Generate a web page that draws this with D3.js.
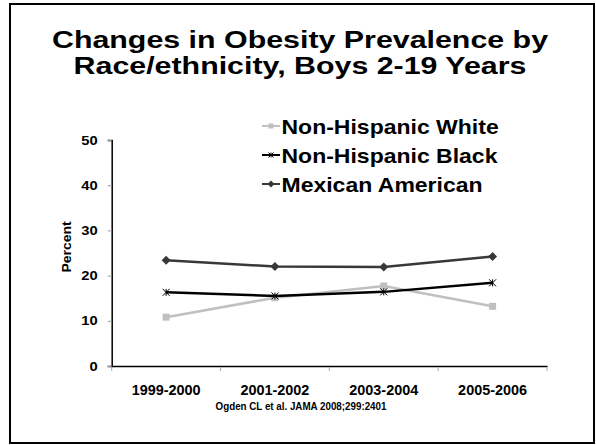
<!DOCTYPE html>
<html><head><meta charset="utf-8">
<script src="https://cdn.jsdelivr.net/npm/d3@7"></script>
<style>body{margin:0;background:#fff}svg{display:block;font-family:"Liberation Sans",Arial,sans-serif}</style>
</head><body><svg id="c" width="596" height="445"></svg>
<script>
const categories = ["1999-2000","2001-2002","2003-2004","2005-2006"];
const seriesNames = ["Non-Hispanic White","Non-Hispanic Black","Mexican American"];
const white = [10.8, 15.1, 17.7, 13.2];
const black = [16.3, 15.5, 16.4, 18.4];
const mexican = [23.4, 22.0, 21.9, 24.2];
const yTicks = [0,10,20,30,40,50];
const titleLines = ["Changes in Obesity Prevalence by","Race/ethnicity, Boys 2-19 Years"];
const source = "Ogden CL et al. JAMA 2008;299:2401";

const svg = d3.select("#c");
svg.append("rect").attr("x",10).attr("y",4).attr("width",584).attr("height",439)
  .attr("fill","none").attr("stroke","#000").attr("stroke-width",2);

// text with horizontal stretch around its anchor point
function addText(parent, str, px, py, size, sx, anchor){
  return parent.append("text").attr("transform",`translate(${px},${py}) scale(${sx},1)`)
    .attr("text-anchor",anchor||"start").attr("font-size",size).attr("font-weight","bold").text(str);
}

titleLines.forEach((t,i)=>addText(svg, t, 300, 48+i*26, 24.5, 1.24, "middle"));

const pLeft=111.7, pRight=547, pTop=140, pBottom=366;
const x = d3.scaleBand().domain(categories).range([pLeft,pRight]);
const y = d3.scaleLinear().domain([0,50]).range([pBottom,pTop]);

// y axis
const ya = svg.append("g").attr("transform",`translate(${pLeft},0)`)
  .call(d3.axisLeft(y).tickValues(yTicks).tickSize(4).tickPadding(10));
ya.select(".domain").attr("stroke","#000").attr("stroke-width",1.5);
ya.selectAll(".tick line").attr("stroke","#999");
ya.selectAll(".tick text").attr("font-size",12.5).attr("font-weight","bold").attr("fill","#000")
  .attr("font-family","Liberation Sans, Arial, sans-serif")
  .attr("x",-14/1.18).attr("transform","scale(1.18,1)");

// x axis
const xa = svg.append("g").attr("transform",`translate(0,${pBottom})`)
  .call(d3.axisBottom(x).tickSize(0).tickPadding(19));
xa.select(".domain").attr("stroke","#000").attr("stroke-width",1.5);
xa.selectAll(".tick text").attr("font-size",14).attr("font-weight","bold").attr("fill","#000")
  .attr("font-family","Liberation Sans, Arial, sans-serif").attr("transform","scale(1.03,1)");
// category boundary ticks
const bounds = categories.map(c=>x(c)).concat([x.range()[1]]);
xa.append("g").selectAll("line").data(bounds).join("line")
  .attr("x1",d=>d).attr("x2",d=>d)
  .attr("y1",1).attr("y2",5).attr("stroke","#aaa").attr("stroke-width",1);

svg.append("text").attr("transform",`translate(70.5,247) rotate(-90) scale(1.16,1)`)
  .attr("text-anchor","middle").attr("font-size",12).attr("font-weight","bold").text("Percent");

addText(svg, source, 301, 410, 10, 0.98, "middle");

const series = [
  {name:seriesNames[0], values:white, color:"#c0c0c0", marker:"square"},
  {name:seriesNames[1], values:black, color:"#000000", marker:"star"},
  {name:seriesNames[2], values:mexican, color:"#383838", marker:"diamond"}
];
const cx = d => x(d)+x.bandwidth()/2;
const line = d3.line().x(d=>cx(d.c)).y(d=>y(d.v));

function marker(g, type, color, px, py, s){
  if(type==="square"){
    g.append("rect").attr("x",px-s).attr("y",py-s).attr("width",2*s).attr("height",2*s).attr("fill",color);
  } else if(type==="diamond"){
    g.append("path").attr("d",`M${px},${py-s-1}L${px+s+1},${py}L${px},${py+s+1}L${px-s-1},${py}Z`).attr("fill",color);
  } else {
    const p = `M${px-s},${py-s}L${px+s},${py+s}M${px-s},${py+s}L${px+s},${py-s}M${px},${py-s}L${px},${py+s}`;
    g.append("path").attr("d",p).attr("stroke",color).attr("stroke-width",1).attr("fill","none");
  }
}

series.forEach(s=>{
  const pts = categories.map((c,i)=>({c, v:s.values[i]}));
  const g = svg.append("g");
  g.append("path").datum(pts).attr("d",line).attr("fill","none").attr("stroke",s.color).attr("stroke-width",2.5);
  pts.forEach(p=>marker(g, s.marker, s.color, cx(p.c), y(p.v), 3.5));
});

// legend
const lg = svg.append("g");
series.forEach((s,i)=>{
  const yy = 126 + i*29;
  lg.append("line").attr("x1",262).attr("x2",280).attr("y1",yy).attr("y2",yy).attr("stroke",s.color).attr("stroke-width",2);
  marker(lg, s.marker, s.color, 271, yy, 2.5);
  addText(lg, s.name, 281.5, yy+7.5, 20, 1.15, "start");
});
</script></body></html>
